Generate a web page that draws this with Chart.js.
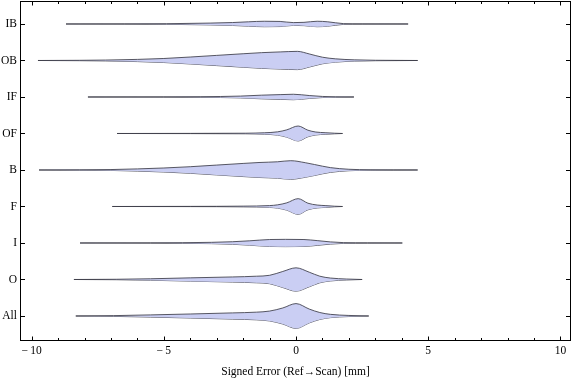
<!DOCTYPE html>
<html><head><meta charset="utf-8">
<script src="https://cdn.jsdelivr.net/npm/chart.js@4"></script>
<style>html,body{margin:0;padding:0;background:#fff}</style>
</head><body>
<canvas id="c" width="576" height="381"></canvas>
<script>
const categories = ['IB','OB','IF','OF','B','F','I','O','All'];
const xMajorTicks = [-10,-5,0,5,10];
const xMinorTicks = [-9,-8,-7,-6,-4,-3,-2,-1,1,2,3,4,6,7,8,9];
const axisTitle = 'Signed Error (Ref\u2192Scan) [mm]';

// [signed error, half-width of density] pairs per category
const violinIB = [[-8.7,0],[-6.5,0.003],[-4.9,0.008],[-3.25,0.025],[-2.4,0.04],[-1.8,0.06],[-1.2,0.075],[-0.6,0.07],[-0.1,0.038],[0.3,0.045],[0.8,0.075],[1.2,0.06],[1.8,0.01],[2.5,0.003],[4.24,0]];
const violinOB = [[-9.76,0],[-8.2,0.005],[-7.2,0.012],[-6,0.03],[-5,0.055],[-4,0.095],[-3,0.14],[-2,0.185],[-1.3,0.215],[-0.6,0.235],[0.05,0.25],[0.5,0.18],[1.0,0.09],[1.5,0.045],[2.2,0.018],[3,0.006],[4.6,0]];
const violinIF = [[-7.87,0],[-5,0.003],[-3.6,0.008],[-2.1,0.025],[-1.3,0.05],[-0.6,0.065],[-0.1,0.075],[0.5,0.04],[1.0,0.015],[1.5,0.004],[2.19,0]];
const violinOF = [[-6.77,0],[-4,0.003],[-1.9,0.008],[-1.2,0.02],[-0.7,0.045],[-0.35,0.1],[0.08,0.205],[0.45,0.09],[0.75,0.04],[1.1,0.022],[1.45,0.008],[1.76,0]];
const violinB = [[-9.72,0],[-8.2,0.005],[-7,0.012],[-6,0.03],[-5,0.055],[-4,0.09],[-3,0.135],[-2,0.18],[-1.4,0.205],[-0.7,0.225],[-0.2,0.255],[0.35,0.2],[0.7,0.15],[1.3,0.065],[2,0.02],[2.8,0.006],[4.6,0]];
const violinF = [[-6.95,0],[-4,0.003],[-2,0.01],[-1,0.025],[-0.7,0.045],[-0.35,0.1],[0.08,0.215],[0.45,0.09],[0.8,0.04],[1.1,0.025],[1.45,0.008],[1.76,0]];
const violinI = [[-8.17,0],[-5.5,0.003],[-4.3,0.008],[-3.2,0.018],[-2.4,0.035],[-1.75,0.06],[-1.0,0.095],[-0.4,0.1],[0.3,0.095],[0.8,0.065],[1.3,0.03],[1.8,0.01],[2.7,0.003],[4.02,0]];
const violinO = [[-8.4,0],[-6.8,0.006],[-5.5,0.02],[-4,0.045],[-2.4,0.07],[-1.5,0.09],[-1,0.115],[-0.5,0.22],[0,0.32],[0.5,0.2],[0.9,0.09],[1.3,0.04],[1.9,0.013],[2.5,0]];
const violinAll = [[-8.33,0],[-6.9,0.01],[-5.5,0.03],[-4,0.055],[-2.4,0.085],[-1.5,0.105],[-1,0.135],[-0.5,0.22],[0,0.34],[0.5,0.19],[0.9,0.095],[1.3,0.045],[2,0.015],[2.75,0]];

const violins = [violinIB, violinOB, violinIF, violinOF, violinB, violinF, violinI, violinO, violinAll];

const FILL = 'rgb(202,206,243)';
const EDGE = 'rgba(60,60,72,0.85)';
const FONT = "'Liberation Serif','Times New Roman',serif";
const FSIZE = 11.5;

const datasets = [];
violins.forEach((v, i) => {
  const pos = i + 1;
  datasets.push({
    label: categories[i] + ' upper',
    data: v.map(p => ({x: p[0], y: pos - p[1]})),
    fill: '+1', backgroundColor: FILL, borderColor: EDGE, borderWidth: 1,
    pointRadius: 0, cubicInterpolationMode: 'monotone'
  });
  datasets.push({
    label: categories[i] + ' lower',
    data: v.map(p => ({x: p[0], y: pos + p[1]})),
    fill: false, borderColor: EDGE, borderWidth: 1,
    pointRadius: 0, cubicInterpolationMode: 'monotone'
  });
});

const framePlugin = {
  id: 'frame',
  afterDraw(chart) {
    const {ctx, chartArea: a, scales: {x, y}} = chart;
    ctx.save();
    ctx.strokeStyle = '#000';
    ctx.lineWidth = 1;
    ctx.strokeRect(Math.round(a.left) + 0.5, Math.round(a.top) + 0.5, Math.round(a.right - a.left) - 1, Math.round(a.bottom - a.top) - 1);
    ctx.beginPath();
    const tick = (v, len) => {
      const px = Math.round(x.getPixelForValue(v)) + 0.5;
      ctx.moveTo(px, a.bottom); ctx.lineTo(px, a.bottom - len);
      ctx.moveTo(px, a.top); ctx.lineTo(px, a.top + len);
    };
    xMajorTicks.forEach(v => tick(v, 4.5));
    xMinorTicks.forEach(v => tick(v, 3));
    categories.forEach((c, i) => {
      const py = Math.round(y.getPixelForValue(i + 1)) + 0.5;
      ctx.moveTo(a.left, py); ctx.lineTo(a.left + 5, py);
      ctx.moveTo(a.right, py); ctx.lineTo(a.right - 5, py);
    });
    ctx.stroke();
    ctx.restore();
  }
};

new Chart(document.getElementById('c'), {
  type: 'line',
  data: {datasets},
  options: {
    responsive: false, animation: false, devicePixelRatio: 1,
    layout: {padding: {top: 1, right: 5, left: 0, bottom: 0}},
    plugins: {legend: {display: false}, tooltip: {enabled: false}},
    scales: {
      x: {
        type: 'linear', min: -10.44, max: 10.4,
        afterBuildTicks: s => { s.ticks = xMajorTicks.map(v => ({value: v})); },
        afterFit: s => { s.height = 40; s.paddingLeft = 0; s.paddingRight = 0; },
        grid: {display: false, drawTicks: false},
        border: {display: false},
        ticks: {color: '#000', font: {family: FONT, size: FSIZE}, padding: 3,
          callback: v => (v < 0 ? '\u2212\u2009' + Math.abs(v) : String(v)), maxRotation: 0},
        title: {display: true, text: axisTitle, color: '#000', font: {family: FONT, size: FSIZE}, padding: {top: 2, bottom: 2}}
      },
      y: {
        type: 'linear', min: 0.37, max: 9.685, reverse: true,
        afterBuildTicks: s => { s.ticks = categories.map((c, i) => ({value: i + 1})); },
        afterFit: s => { s.width = 20; s.paddingTop = 0; s.paddingBottom = 0; },
        grid: {display: false, drawTicks: false},
        border: {display: false},
        ticks: {color: '#000', font: {family: FONT, size: FSIZE}, padding: 3,
          callback: v => categories[v - 1] || ''}
      }
    }
  },
  plugins: [framePlugin]
});
</script>
</body></html>
